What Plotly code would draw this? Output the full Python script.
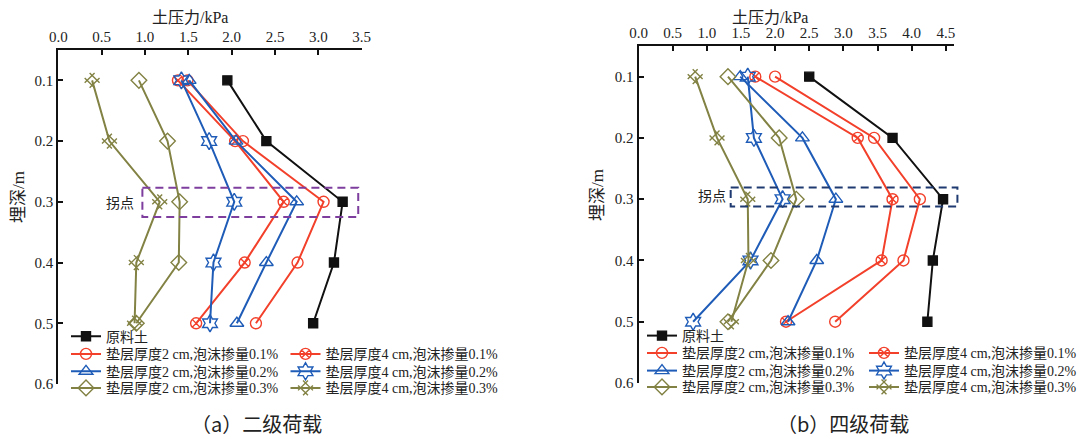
import plotly.graph_objects as go

# ---------------- data ----------------
depth = [0.1, 0.2, 0.3, 0.4, 0.5]

series_names = [
    "原料土",
    "垫层厚度2 cm,泡沫掺量0.1%",
    "垫层厚度4 cm,泡沫掺量0.1%",
    "垫层厚度2 cm,泡沫掺量0.2%",
    "垫层厚度4 cm,泡沫掺量0.2%",
    "垫层厚度2 cm,泡沫掺量0.3%",
    "垫层厚度4 cm,泡沫掺量0.3%",
]

# (a) 二级荷载
a_raw = [1.95, 2.40, 3.28, 3.18, 2.94]
a_2_01 = [1.49, 2.13, 3.06, 2.76, 2.28]
a_4_01 = [1.38, 2.04, 2.60, 2.15, 1.59]
a_2_02 = [1.51, 2.05, 2.75, 2.40, 2.06]
a_4_02 = [1.42, 1.74, 2.03, 1.79, 1.75]
a_2_03 = [0.93, 1.26, 1.40, 1.39, 0.90]
a_4_03 = [0.39, 0.59, 1.17, 0.90, 0.88]

# (b) 四级荷载
b_raw = [2.50, 3.72, 4.46, 4.31, 4.23]
b_2_01 = [2.00, 3.45, 4.12, 3.88, 2.88]
b_4_01 = [1.71, 3.21, 3.72, 3.56, 2.16]
b_2_02 = [1.49, 2.40, 2.89, 2.61, 2.19]
b_4_02 = [1.60, 1.69, 2.11, 1.64, 0.80]
b_2_03 = [1.31, 2.06, 2.31, 1.94, 1.31]
b_4_03 = [0.83, 1.15, 1.60, 1.61, 1.36]

x_ticks_a = [0.0, 0.5, 1.0, 1.5, 2.0, 2.5, 3.0, 3.5]
x_ticks_b = [0.0, 0.5, 1.0, 1.5, 2.0, 2.5, 3.0, 3.5, 4.0, 4.5]
y_ticks = [0.1, 0.2, 0.3, 0.4, 0.5, 0.6]

x_title = "土压力/kPa"
y_title = "埋深/m"
captions = ["（a）二级荷载", "（b）四级荷载"]
turn_label = "拐点"
# turning-point boxes in data units: (x0, x1, y0, y1)
box_a = (0.97, 3.46, 0.277, 0.325)
box_b = (1.35, 4.67, 0.281, 0.312)
label_a = (0.71, 0.300)
label_b = (1.07, 0.293)

# ---------------- styles ----------------
W, H = 1084, 439
RED = "#F2402B"
BLUE = "#1F5CB8"
OLIVE = "#828244"
BLACK = "#111111"
styles = [
    dict(color=BLACK, symbol="square", size=9, angle=0, fill=BLACK),
    dict(color=RED, symbol="circle-open", size=11, angle=0, fill=RED),
    dict(color=RED, symbol="circle-x-open", size=11, angle=0, fill=RED),
    dict(color=BLUE, symbol="triangle-up-open", size=12, angle=0, fill=BLUE),
    dict(color=BLUE, symbol="hexagram-open", size=13, angle=0, fill=BLUE),
    dict(color=OLIVE, symbol="diamond-open", size=12, angle=0, fill=OLIVE),
    dict(color=OLIVE, symbol="hash-open", size=14, angle=45, fill=OLIVE),
]

SERIF = "Liberation Serif, Noto Sans CJK SC"
CJK = "Noto Sans CJK SC"

fig = go.Figure()

panels = [
    dict(data=[a_raw, a_2_01, a_4_01, a_2_02, a_4_02, a_2_03, a_4_03],
         xa="x", ya="y", legbase=1,
         leg_x=[66, 66, 285.5, 66, 285.5, 66, 285.5],
         leg_y=[336.7, 354.3, 354.3, 371.7, 371.7, 388.3, 388.3]),
    dict(data=[b_raw, b_2_01, b_4_01, b_2_02, b_4_02, b_2_03, b_4_03],
         xa="x2", ya="y2", legbase=8,
         leg_x=[642, 642, 864, 642, 864, 642, 864],
         leg_y=[336, 353.3, 353.3, 371, 371, 387.3, 387.3]),
]

legend_layouts = {}
for p in panels:
    for i, (vals, name, st) in enumerate(zip(p["data"], series_names, styles)):
        lid = p["legbase"] + i
        lname = "legend" if lid == 1 else f"legend{lid}"
        fig.add_trace(go.Scatter(
            x=vals, y=depth, name=name, mode="lines+markers",
            xaxis=p["xa"], yaxis=p["ya"], legend=lname,
            line=dict(color=st["color"], width=2),
            marker=dict(symbol=st["symbol"], size=st["size"], angle=st["angle"],
                        color=st["fill"], line=dict(color=st["color"], width=1.4)),
            showlegend=True,
        ))
        legend_layouts[lname] = dict(
            x=p["leg_x"][i] / W, y=1 - p["leg_y"][i] / H,
            xanchor="left", yanchor="middle",
            bgcolor="rgba(0,0,0,0)", borderwidth=0,
            font=dict(family=SERIF, size=14, color="#222"),
            itemwidth=30,
        )

axis_common = dict(
    showline=True, linecolor="#111", linewidth=2,
    ticks="inside", ticklen=5, tickwidth=2, tickcolor="#111",
    showgrid=False, zeroline=False, automargin=False,
    tickfont=dict(family="Liberation Serif", size=15, color="#222"),
)

# pixel geometry of the plotting areas
dom_a = dict(x=[58.3 / W, 361.7 / W], y=[1 - 384 / H, 1 - 50 / H])
dom_b = dict(x=[638.5 / W, 954 / W], y=[1 - 383 / H, 1 - 46 / H])
xr_a = [0, 3.5]
xr_b = [0, 4.62]
yr = [0.6, 0.05]

fig.update_layout(
    width=W, height=H,
    margin=dict(l=0, r=0, t=0, b=0, autoexpand=False),
    paper_bgcolor="white", plot_bgcolor="white",
    xaxis=dict(axis_common, domain=dom_a["x"], range=xr_a, side="top", anchor="y",
               tickvals=x_ticks_a, tickformat=".1f"),
    yaxis=dict(axis_common, domain=dom_a["y"], range=yr, anchor="x",
               tickvals=y_ticks, tickformat=".1f"),
    xaxis2=dict(axis_common, domain=dom_b["x"], range=xr_b, side="top", anchor="y2",
                tickvals=x_ticks_b, tickformat=".1f"),
    yaxis2=dict(axis_common, domain=dom_b["y"], range=yr, anchor="x2",
                tickvals=y_ticks, tickformat=".1f"),
    **legend_layouts,
)


def frac(v, r):
    return (v - r[0]) / (r[1] - r[0])


# dashed boxes (domain refs so they may run past the axis end)
for box, xr, xd, yd, col in [(box_a, xr_a, "x domain", "y domain", "#7D3E9E"),
                             (box_b, xr_b, "x2 domain", "y2 domain", "#1F3A70")]:
    fig.add_shape(type="rect", xref=xd, yref=yd,
                  x0=frac(box[0], xr), x1=frac(box[1], xr),
                  y0=frac(box[2], yr), y1=frac(box[3], yr),
                  line=dict(color=col, width=2, dash="8px,5px"),
                  fillcolor="rgba(0,0,0,0)")

for (lx, ly), xa, ya in [(label_a, "x", "y"), (label_b, "x2", "y2")]:
    fig.add_annotation(x=lx, y=ly, xref=xa, yref=ya, text=turn_label, showarrow=False,
                       font=dict(family=CJK, size=14, color="#222"))

# axis titles
for cx, cy in [(190, 18), (770, 18)]:
    fig.add_annotation(x=cx / W, y=1 - cy / H, xref="paper", yref="paper", text=x_title,
                       showarrow=False, xanchor="center", yanchor="middle",
                       font=dict(family=SERIF, size=16, color="#222"))
for cx, cy in [(18, 197), (597, 195)]:
    fig.add_annotation(x=cx / W, y=1 - cy / H, xref="paper", yref="paper", text=y_title,
                       showarrow=False, xanchor="center", yanchor="middle", textangle=-90,
                       font=dict(family=SERIF, size=17, color="#222"))

# captions
for cap, cx in zip(captions, [256, 843]):
    fig.add_annotation(x=cx / W, y=1 - 423 / H, xref="paper", yref="paper", text=cap,
                       showarrow=False, xanchor="center", yanchor="middle",
                       font=dict(family=CJK, size=20, color="#222"))

fig.write_html("out.html", config={"displayModeBar": False},
               post_script="document.body.style.margin='0';")
